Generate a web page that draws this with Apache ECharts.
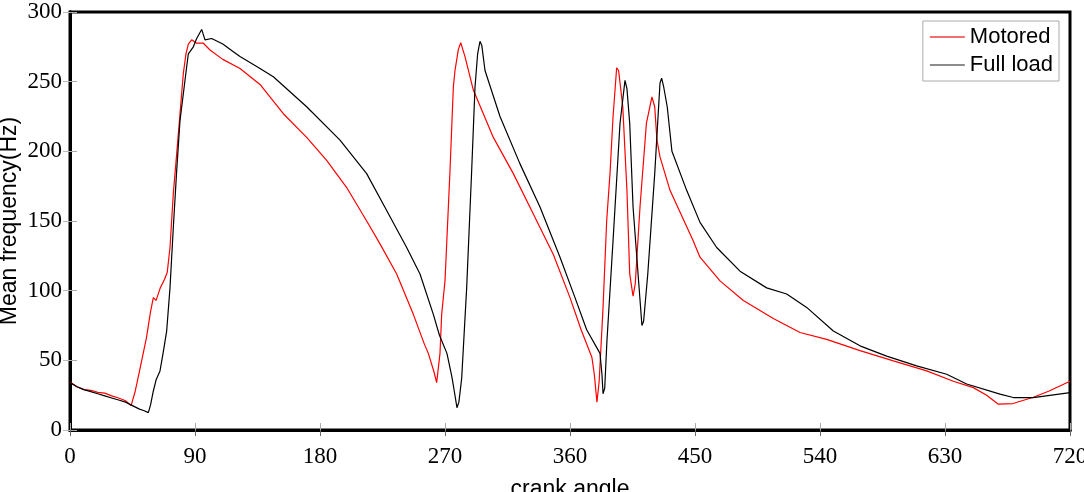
<!DOCTYPE html>
<html>
<head>
<meta charset="utf-8">
<script src="https://cdn.jsdelivr.net/npm/echarts@6/dist/echarts.min.js"></script>
<style>
html,body{margin:0;padding:0;background:#fff;}
#chart{width:1084px;height:492px;}
</style>
</head>
<body>
<div id="chart"></div>
<script>
// ---- data ----
const xTicks = [0, 90, 180, 270, 360, 450, 540, 630, 720];
const yTicks = [0, 50, 100, 150, 200, 250, 300];

const motoredAngle = [0,5,10,15,20,25,30,35,40,44,47,50,55,58,60,62,65,68,70,72,74.4,76.8,79.2,81.6,83.5,85.2,87.6,91.2,96,100.8,110,122.4,136.8,153.6,170.4,184.8,199.2,213.6,223.2,235.2,247.2,255,258,262,264,266.4,267.6,270,273.6,276,277.2,279.6,281.3,284.4,290.4,304.8,319.2,333.6,348,360,368,375.8,377.5,379.4,381,383.8,386.4,388.8,391,393.6,395,398,401,403,405.4,407,410.4,415,419,421,422.6,424.8,432,448.6,453.6,468,484.8,506.4,525.6,544.8,568.8,592.8,616.8,636,650.4,660,668.4,679,693.6,705,720];
const motoredFreq  = [34.5,31,29,28.5,27,26.5,24.5,23,21,17.5,28,42,66,85,95,93,102,108,113,131,170,198,227,256,270,277,280,277.6,277.6,272.7,266,259.5,248,227,210,193.5,174,150,133.6,112,83,62,55,42,34,55,83,107,186,246,258,273,278,268,244,210,184,155,126,95,72,52,40,20,35,88,150,184,225,260,258,232,172,112,96,105,160,220,239,232,208,196,172,136,124,107,93,80,70,65,57,49.6,42.4,35,30.4,25,18.5,19,23.5,28,35];

const fullLoadAngle = [0,5,10,15,20,25,30,35,40,45,50,53,56.4,58,60,62,64.8,67,69.6,72,74.4,76.8,79.2,82.8,85.2,88.8,91.2,94.8,97.2,102,110,117.6,122.4,136.8,146.4,170.4,194.4,213.6,228,242.4,252,261.6,266,271.4,275,277,278.6,280,282,285.6,289.2,291.6,293.5,295.2,296.5,298.8,309.6,324,338.4,352.8,363.6,372,381.6,383,383.8,385,386.6,391,396,399.6,401,403,405.4,409,411.8,413,416,421,424.8,426,427.5,430,433.4,444,453.6,465.6,482.4,501.6,516,530.4,549.6,568.8,588,609.6,631.2,645.6,669.6,679.2,693.6,720];
const fullLoadFreq  = [34,31,29,27.5,26,24.5,23,21.5,20,17.5,15,14,12.5,18,28,36,42.4,55,71,102,145.5,186,222,251,270,275,281,287.5,280,281,277,271.5,268,259.5,253.5,232,208,184,157.5,131,112,83,68,55,38,26,16,20,37,102,186,246,270,279,276,258,225,191,160,124,95,72,55,40,26,30,64,136,220,251,245,220,160,112,75,78,112,184,249,252.5,246,232,200,172,149,131,114,102,97.6,88,71,60.4,53,46,40,33,25.7,23.3,23.3,26.8];

const zip = (a, b) => a.map((v, i) => [v, b[i]]);

const chart = echarts.init(document.getElementById('chart'), null, {renderer: 'canvas'});

const serif = "'Liberation Serif','Times New Roman',serif";
const sans = "'Liberation Sans',Arial,sans-serif";

const option = {
  animation: false,
  backgroundColor: '#fff',
  grid: {
    left: 70, right: 14, top: 12, bottom: 62,
    containLabel: false, outerBoundsMode: 'none',
    show: true, borderColor: '#000', borderWidth: 3, backgroundColor: 'transparent'
  },
  legend: {
    orient: 'vertical',
    right: 25, top: 21,
    backgroundColor: '#fff',
    borderColor: '#aaa', borderWidth: 1,
    padding: [5, 6, 5, 7],
    itemWidth: 35, itemHeight: 1.5, itemGap: 6,
    icon: 'rect',
    textStyle: {fontFamily: sans, fontSize: 22, color: '#000', lineHeight: 22},
    data: [
      {name: 'Motored', itemStyle: {color: '#f04040'}},
      {name: 'Full load', itemStyle: {color: '#666'}}
    ]
  },
  xAxis: [{
    type: 'value', min: 0, max: 720, interval: 90,
    name: 'crank angle', nameLocation: 'middle', nameGap: 48, nameMoveOverlap: false,
    nameTextStyle: {fontFamily: sans, fontSize: 23, color: '#000'},
    axisLine: {show: true, lineStyle: {color: '#000', width: 3}},
    axisTick: {show: true, inside: true, length: 7, lineStyle: {color: '#aaa', width: 1}},
    axisLabel: {fontFamily: serif, fontSize: 23, color: '#000', margin: 15,
      formatter: v => xTicks.includes(v) ? String(v) : ''},
    splitLine: {show: false}
  }, {
    type: 'value', min: 0, max: 720, interval: 90, position: 'top',
    axisLine: {show: true, lineStyle: {color: '#000', width: 3}},
    axisTick: {show: true, inside: true, length: 6, lineStyle: {color: '#666', width: 1}},
    axisLabel: {show: false}, splitLine: {show: false}
  }],
  yAxis: [{
    type: 'value', min: 0, max: 300, interval: 50,
    name: 'Mean frequency(Hz)', nameLocation: 'middle', nameGap: 49, nameMoveOverlap: false,
    nameTextStyle: {fontFamily: sans, fontSize: 23, color: '#000'},
    axisLine: {show: true, lineStyle: {color: '#000', width: 3}},
    axisTick: {show: true, inside: true, length: 7, lineStyle: {color: '#aaa', width: 1}},
    axisLabel: {fontFamily: serif, fontSize: 23, color: '#000', margin: 8,
      formatter: v => yTicks.includes(v) ? String(v) : ''},
    splitLine: {show: false}
  }, {
    type: 'value', min: 0, max: 300, interval: 50, position: 'right',
    axisLine: {show: true, lineStyle: {color: '#000', width: 3}},
    axisTick: {show: true, inside: true, length: 7, lineStyle: {color: '#bbb', width: 1}},
    axisLabel: {show: false}, splitLine: {show: false}
  }],
  series: [{
    name: 'Motored', type: 'line', xAxisIndex: 0, yAxisIndex: 0,
    data: zip(motoredAngle, motoredFreq),
    symbol: 'none', smooth: false,
    lineStyle: {color: '#ff0000', width: 1.2},
    itemStyle: {color: '#ff0000'}
  }, {
    name: 'Full load', type: 'line', xAxisIndex: 0, yAxisIndex: 0,
    data: zip(fullLoadAngle, fullLoadFreq),
    symbol: 'none', smooth: false,
    lineStyle: {color: '#000000', width: 1.2},
    itemStyle: {color: '#000000'}
  }]
};
chart.setOption(option);
</script>
</body>
</html>
